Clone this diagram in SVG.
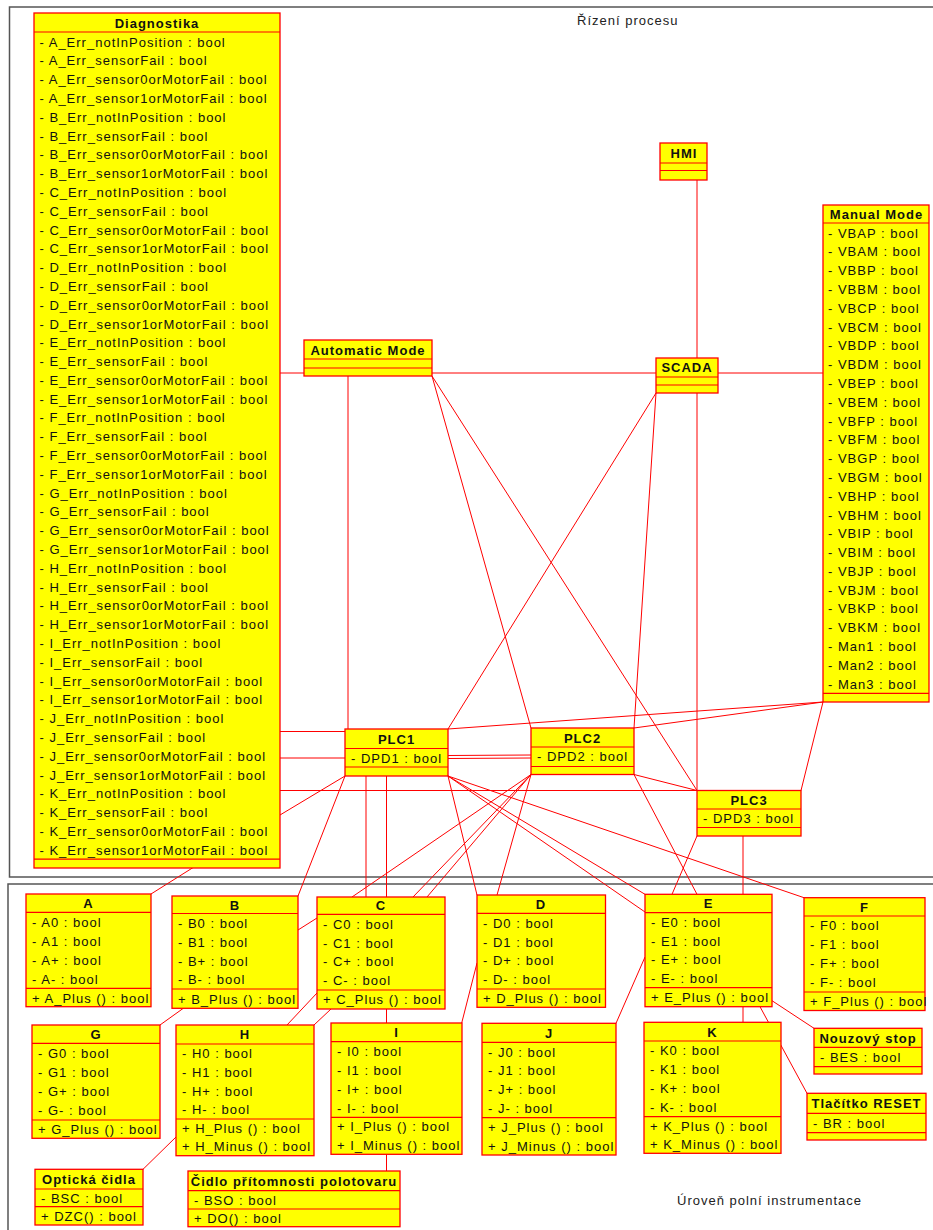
<svg xmlns="http://www.w3.org/2000/svg" width="933" height="1230" viewBox="0 0 933 1230">
<style>
.bg{fill:#ffffff}
.frame{fill:none;stroke:#555555;stroke-width:1.5}
.box{fill:#ffff00;stroke:#ff0000;stroke-width:1.3}
.sep{stroke:#ff0000;stroke-width:1.2}
.t{font-family:"Liberation Sans",Arial,sans-serif;font-size:13px;letter-spacing:1px;fill:#111111}
.h{font-weight:bold;text-anchor:middle}
.lbl{font-family:"Liberation Sans",Arial,sans-serif;font-size:13px;letter-spacing:1px;fill:#222222}
#connectors line{stroke:#ff0000;stroke-width:1;fill:none}
</style>
<rect class="bg" x="0" y="0" width="933" height="1230"/>
<g id="frames">
<rect class="frame" x="9.5" y="7" width="935" height="870"/>
<rect class="frame" x="8" y="884" width="937" height="360"/>
<text class="lbl" x="577" y="25">Řízení procesu</text>
<text class="lbl" x="677" y="1205">Úroveň polní instrumentace</text>
</g>
<g id="connectors">
<line x1="697" y1="180" x2="697" y2="358"/>
<line x1="280" y1="373" x2="304" y2="373"/>
<line x1="432" y1="373" x2="656" y2="373"/>
<line x1="718" y1="373" x2="823" y2="373"/>
<line x1="348" y1="376" x2="348" y2="729"/>
<line x1="432" y1="376" x2="531" y2="728"/>
<line x1="432" y1="376" x2="697" y2="790.5"/>
<line x1="656" y1="393" x2="448" y2="729"/>
<line x1="656" y1="393" x2="634" y2="728"/>
<line x1="697" y1="393" x2="697" y2="790.5"/>
<line x1="823" y1="702" x2="448" y2="729"/>
<line x1="823" y1="702" x2="634" y2="728"/>
<line x1="823" y1="702" x2="801" y2="790.5"/>
<line x1="280" y1="731.5" x2="345" y2="731.5"/>
<line x1="280" y1="758" x2="345" y2="758"/>
<line x1="280" y1="790.5" x2="697" y2="790.5"/>
<line x1="280" y1="815" x2="345" y2="776"/>
<line x1="448" y1="755.5" x2="531" y2="755"/>
<line x1="448" y1="758.5" x2="531" y2="758"/>
<line x1="634" y1="774.5" x2="697" y2="790.5"/>
<line x1="193" y1="867.6" x2="151" y2="894"/>
<line x1="345" y1="776" x2="298" y2="896"/>
<line x1="366" y1="776" x2="366" y2="897"/>
<line x1="386.5" y1="776" x2="386.5" y2="897"/>
<line x1="531" y1="774.5" x2="352" y2="897"/>
<line x1="531" y1="774.5" x2="413" y2="897"/>
<line x1="531" y1="774.5" x2="427" y2="897"/>
<line x1="448" y1="776" x2="477" y2="895"/>
<line x1="531" y1="774.5" x2="497" y2="895"/>
<line x1="448" y1="776" x2="645" y2="894.3"/>
<line x1="448" y1="776" x2="645" y2="912"/>
<line x1="448" y1="776" x2="804" y2="897.7"/>
<line x1="634" y1="774.5" x2="697" y2="894.3"/>
<line x1="697" y1="836" x2="672" y2="894.3"/>
<line x1="743" y1="836" x2="743" y2="894.3"/>
<line x1="298" y1="930" x2="317" y2="918"/>
<line x1="317" y1="993" x2="287" y2="1025"/>
<line x1="331" y1="1009" x2="314" y2="1025"/>
<line x1="183.3" y1="1008.3" x2="160" y2="1025"/>
<line x1="176" y1="1137" x2="143" y2="1169.3"/>
<line x1="386.5" y1="1009" x2="386.5" y2="1023"/>
<line x1="386.5" y1="1154.3" x2="386.5" y2="1171"/>
<line x1="461.7" y1="1023" x2="477" y2="963"/>
<line x1="616" y1="1023.3" x2="645" y2="957"/>
<line x1="743" y1="1006.7" x2="743" y2="1022.3"/>
<line x1="760" y1="1006.7" x2="807" y2="1093.3"/>
<line x1="772" y1="1000.7" x2="814" y2="1028.3"/>
</g>
<g id="Diagnostika">
<rect class="box" x="34" y="13" width="246" height="855"/>
<line class="sep" x1="34" y1="32" x2="280" y2="32"/>
<line class="sep" x1="34" y1="859.2" x2="280" y2="859.2"/>
<text class="t h" x="157" y="27.5">Diagnostika</text>
<text class="t" x="39.5" y="46.5"><tspan x="39.5">- A_Err_notInPosition : bool</tspan><tspan x="39.5" dy="18.8">- A_Err_sensorFail : bool</tspan><tspan x="39.5" dy="18.8">- A_Err_sensor0orMotorFail : bool</tspan><tspan x="39.5" dy="18.8">- A_Err_sensor1orMotorFail : bool</tspan><tspan x="39.5" dy="18.8">- B_Err_notInPosition : bool</tspan><tspan x="39.5" dy="18.8">- B_Err_sensorFail : bool</tspan><tspan x="39.5" dy="18.8">- B_Err_sensor0orMotorFail : bool</tspan><tspan x="39.5" dy="18.8">- B_Err_sensor1orMotorFail : bool</tspan><tspan x="39.5" dy="18.8">- C_Err_notInPosition : bool</tspan><tspan x="39.5" dy="18.8">- C_Err_sensorFail : bool</tspan><tspan x="39.5" dy="18.8">- C_Err_sensor0orMotorFail : bool</tspan><tspan x="39.5" dy="18.8">- C_Err_sensor1orMotorFail : bool</tspan><tspan x="39.5" dy="18.8">- D_Err_notInPosition : bool</tspan><tspan x="39.5" dy="18.8">- D_Err_sensorFail : bool</tspan><tspan x="39.5" dy="18.8">- D_Err_sensor0orMotorFail : bool</tspan><tspan x="39.5" dy="18.8">- D_Err_sensor1orMotorFail : bool</tspan><tspan x="39.5" dy="18.8">- E_Err_notInPosition : bool</tspan><tspan x="39.5" dy="18.8">- E_Err_sensorFail : bool</tspan><tspan x="39.5" dy="18.8">- E_Err_sensor0orMotorFail : bool</tspan><tspan x="39.5" dy="18.8">- E_Err_sensor1orMotorFail : bool</tspan><tspan x="39.5" dy="18.8">- F_Err_notInPosition : bool</tspan><tspan x="39.5" dy="18.8">- F_Err_sensorFail : bool</tspan><tspan x="39.5" dy="18.8">- F_Err_sensor0orMotorFail : bool</tspan><tspan x="39.5" dy="18.8">- F_Err_sensor1orMotorFail : bool</tspan><tspan x="39.5" dy="18.8">- G_Err_notInPosition : bool</tspan><tspan x="39.5" dy="18.8">- G_Err_sensorFail : bool</tspan><tspan x="39.5" dy="18.8">- G_Err_sensor0orMotorFail : bool</tspan><tspan x="39.5" dy="18.8">- G_Err_sensor1orMotorFail : bool</tspan><tspan x="39.5" dy="18.8">- H_Err_notInPosition : bool</tspan><tspan x="39.5" dy="18.8">- H_Err_sensorFail : bool</tspan><tspan x="39.5" dy="18.8">- H_Err_sensor0orMotorFail : bool</tspan><tspan x="39.5" dy="18.8">- H_Err_sensor1orMotorFail : bool</tspan><tspan x="39.5" dy="18.8">- I_Err_notInPosition : bool</tspan><tspan x="39.5" dy="18.8">- I_Err_sensorFail : bool</tspan><tspan x="39.5" dy="18.8">- I_Err_sensor0orMotorFail : bool</tspan><tspan x="39.5" dy="18.8">- I_Err_sensor1orMotorFail : bool</tspan><tspan x="39.5" dy="18.8">- J_Err_notInPosition : bool</tspan><tspan x="39.5" dy="18.8">- J_Err_sensorFail : bool</tspan><tspan x="39.5" dy="18.8">- J_Err_sensor0orMotorFail : bool</tspan><tspan x="39.5" dy="18.8">- J_Err_sensor1orMotorFail : bool</tspan><tspan x="39.5" dy="18.8">- K_Err_notInPosition : bool</tspan><tspan x="39.5" dy="18.8">- K_Err_sensorFail : bool</tspan><tspan x="39.5" dy="18.8">- K_Err_sensor0orMotorFail : bool</tspan><tspan x="39.5" dy="18.8">- K_Err_sensor1orMotorFail : bool</tspan></text>
</g>
<g id="HMI">
<rect class="box" x="660" y="143" width="47" height="37"/>
<line class="sep" x1="660" y1="163" x2="707" y2="163"/>
<line class="sep" x1="660" y1="170.5" x2="707" y2="170.5"/>
<text class="t h" x="684" y="157.8">HMI</text>
</g>
<g id="ManualMode">
<rect class="box" x="823" y="205" width="106" height="497"/>
<line class="sep" x1="823" y1="223" x2="929" y2="223"/>
<line class="sep" x1="823" y1="693.3" x2="929" y2="693.3"/>
<text class="t h" x="876.5" y="218.5">Manual Mode</text>
<text class="t" x="828" y="237.5"><tspan x="828">- VBAP : bool</tspan><tspan x="828" dy="18.8">- VBAM : bool</tspan><tspan x="828" dy="18.8">- VBBP : bool</tspan><tspan x="828" dy="18.8">- VBBM : bool</tspan><tspan x="828" dy="18.8">- VBCP : bool</tspan><tspan x="828" dy="18.8">- VBCM : bool</tspan><tspan x="828" dy="18.8">- VBDP : bool</tspan><tspan x="828" dy="18.8">- VBDM : bool</tspan><tspan x="828" dy="18.8">- VBEP : bool</tspan><tspan x="828" dy="18.8">- VBEM : bool</tspan><tspan x="828" dy="18.8">- VBFP : bool</tspan><tspan x="828" dy="18.8">- VBFM : bool</tspan><tspan x="828" dy="18.8">- VBGP : bool</tspan><tspan x="828" dy="18.8">- VBGM : bool</tspan><tspan x="828" dy="18.8">- VBHP : bool</tspan><tspan x="828" dy="18.8">- VBHM : bool</tspan><tspan x="828" dy="18.8">- VBIP : bool</tspan><tspan x="828" dy="18.8">- VBIM : bool</tspan><tspan x="828" dy="18.8">- VBJP : bool</tspan><tspan x="828" dy="18.8">- VBJM : bool</tspan><tspan x="828" dy="18.8">- VBKP : bool</tspan><tspan x="828" dy="18.8">- VBKM : bool</tspan><tspan x="828" dy="18.8">- Man1 : bool</tspan><tspan x="828" dy="18.8">- Man2 : bool</tspan><tspan x="828" dy="18.8">- Man3 : bool</tspan></text>
</g>
<g id="AutomaticMode">
<rect class="box" x="304" y="340" width="128" height="36"/>
<line class="sep" x1="304" y1="359" x2="432" y2="359"/>
<line class="sep" x1="304" y1="368" x2="432" y2="368"/>
<text class="t h" x="368" y="354.5">Automatic Mode</text>
</g>
<g id="SCADA">
<rect class="box" x="656" y="358" width="62" height="35"/>
<line class="sep" x1="656" y1="377" x2="718" y2="377"/>
<line class="sep" x1="656" y1="385" x2="718" y2="385"/>
<text class="t h" x="687" y="372">SCADA</text>
</g>
<g id="PLC1">
<rect class="box" x="345" y="729" width="103" height="47"/>
<line class="sep" x1="345" y1="748.5" x2="448" y2="748.5"/>
<line class="sep" x1="345" y1="767" x2="448" y2="767"/>
<text class="t h" x="396.5" y="744">PLC1</text>
<text class="t" x="351" y="762.5">- DPD1 : bool</text>
</g>
<g id="PLC2">
<rect class="box" x="531" y="728" width="103" height="46.5"/>
<line class="sep" x1="531" y1="747" x2="634" y2="747"/>
<line class="sep" x1="531" y1="766.5" x2="634" y2="766.5"/>
<text class="t h" x="582.5" y="742.5">PLC2</text>
<text class="t" x="537" y="761.3">- DPD2 : bool</text>
</g>
<g id="PLC3">
<rect class="box" x="697" y="790.5" width="104" height="45.5"/>
<line class="sep" x1="697" y1="809" x2="801" y2="809"/>
<line class="sep" x1="697" y1="827.5" x2="801" y2="827.5"/>
<text class="t h" x="749" y="804.5">PLC3</text>
<text class="t" x="703" y="823">- DPD3 : bool</text>
</g>
<g id="A">
<rect class="box" x="26" y="894" width="125" height="112.7"/>
<line class="sep" x1="26" y1="912.3" x2="151" y2="912.3"/>
<line class="sep" x1="26" y1="988.3" x2="151" y2="988.3"/>
<text class="t h" x="88.5" y="908">A</text>
<text class="t" x="32" y="926.5">- A0 : bool</text>
<text class="t" x="32" y="945.5">- A1 : bool</text>
<text class="t" x="32" y="964.5">- A+ : bool</text>
<text class="t" x="32" y="983.5">- A- : bool</text>
<text class="t" x="32" y="1002.5">+ A_Plus () : bool</text>
</g>
<g id="B">
<rect class="box" x="172" y="896" width="126" height="112.3"/>
<line class="sep" x1="172" y1="913.5" x2="298" y2="913.5"/>
<line class="sep" x1="172" y1="989" x2="298" y2="989"/>
<text class="t h" x="235" y="909.5">B</text>
<text class="t" x="178" y="927.7">- B0 : bool</text>
<text class="t" x="178" y="946.6">- B1 : bool</text>
<text class="t" x="178" y="965.5">- B+ : bool</text>
<text class="t" x="178" y="984.4">- B- : bool</text>
<text class="t" x="178" y="1003.5">+ B_Plus () : bool</text>
</g>
<g id="C">
<rect class="box" x="317" y="897" width="128" height="112"/>
<line class="sep" x1="317" y1="914.3" x2="445" y2="914.3"/>
<line class="sep" x1="317" y1="990" x2="445" y2="990"/>
<text class="t h" x="381" y="910.4">C</text>
<text class="t" x="323" y="928.6">- C0 : bool</text>
<text class="t" x="323" y="947.5">- C1 : bool</text>
<text class="t" x="323" y="966.4">- C+ : bool</text>
<text class="t" x="323" y="985.3">- C- : bool</text>
<text class="t" x="323" y="1004.3">+ C_Plus () : bool</text>
</g>
<g id="D">
<rect class="box" x="477" y="895" width="128.5" height="112.3"/>
<line class="sep" x1="477" y1="913.3" x2="605.5" y2="913.3"/>
<line class="sep" x1="477" y1="989" x2="605.5" y2="989"/>
<text class="t h" x="541" y="909">D</text>
<text class="t" x="483" y="927.6">- D0 : bool</text>
<text class="t" x="483" y="946.5">- D1 : bool</text>
<text class="t" x="483" y="965.4">- D+ : bool</text>
<text class="t" x="483" y="984.3">- D- : bool</text>
<text class="t" x="483" y="1003">+ D_Plus () : bool</text>
</g>
<g id="E">
<rect class="box" x="645" y="894.3" width="127" height="112.4"/>
<line class="sep" x1="645" y1="912.7" x2="772" y2="912.7"/>
<line class="sep" x1="645" y1="987.7" x2="772" y2="987.7"/>
<text class="t h" x="708.5" y="908.3">E</text>
<text class="t" x="651" y="926.9">- E0 : bool</text>
<text class="t" x="651" y="945.6">- E1 : bool</text>
<text class="t" x="651" y="964.4">- E+ : bool</text>
<text class="t" x="651" y="983.1">- E- : bool</text>
<text class="t" x="651" y="1002">+ E_Plus () : bool</text>
</g>
<g id="F">
<rect class="box" x="804" y="897.7" width="121" height="112.8"/>
<line class="sep" x1="804" y1="916" x2="925" y2="916"/>
<line class="sep" x1="804" y1="992" x2="925" y2="992"/>
<text class="t h" x="864.5" y="911.7">F</text>
<text class="t" x="810" y="930.3">- F0 : bool</text>
<text class="t" x="810" y="949.3">- F1 : bool</text>
<text class="t" x="810" y="968.3">- F+ : bool</text>
<text class="t" x="810" y="987.3">- F- : bool</text>
<text class="t" x="810" y="1006">+ F_Plus () : bool</text>
</g>
<g id="G">
<rect class="box" x="32" y="1025" width="128" height="113.3"/>
<line class="sep" x1="32" y1="1043.3" x2="160" y2="1043.3"/>
<line class="sep" x1="32" y1="1120" x2="160" y2="1120"/>
<text class="t h" x="96" y="1039">G</text>
<text class="t" x="38" y="1057.7">- G0 : bool</text>
<text class="t" x="38" y="1076.9">- G1 : bool</text>
<text class="t" x="38" y="1096.1">- G+ : bool</text>
<text class="t" x="38" y="1115.2">- G- : bool</text>
<text class="t" x="38" y="1134">+ G_Plus () : bool</text>
</g>
<g id="H">
<rect class="box" x="176" y="1025" width="138" height="130.7"/>
<line class="sep" x1="176" y1="1044" x2="314" y2="1044"/>
<line class="sep" x1="176" y1="1119" x2="314" y2="1119"/>
<text class="t h" x="245" y="1039.3">H</text>
<text class="t" x="182" y="1058.2">- H0 : bool</text>
<text class="t" x="182" y="1076.9">- H1 : bool</text>
<text class="t" x="182" y="1095.7">- H+ : bool</text>
<text class="t" x="182" y="1114.4">- H- : bool</text>
<text class="t" x="182" y="1133">+ H_Plus () : bool</text>
<text class="t" x="182" y="1151.3">+ H_Minus () : bool</text>
</g>
<g id="I">
<rect class="box" x="331" y="1023" width="131" height="131.3"/>
<line class="sep" x1="331" y1="1041.7" x2="462" y2="1041.7"/>
<line class="sep" x1="331" y1="1117.3" x2="462" y2="1117.3"/>
<text class="t h" x="396.5" y="1037.2">I</text>
<text class="t" x="337" y="1056">- I0 : bool</text>
<text class="t" x="337" y="1074.9">- I1 : bool</text>
<text class="t" x="337" y="1093.8">- I+ : bool</text>
<text class="t" x="337" y="1112.7">- I- : bool</text>
<text class="t" x="337" y="1131.3">+ I_Plus () : bool</text>
<text class="t" x="337" y="1149.8">+ I_Minus () : bool</text>
</g>
<g id="J">
<rect class="box" x="482" y="1023.3" width="134" height="131.7"/>
<line class="sep" x1="482" y1="1042.3" x2="616" y2="1042.3"/>
<line class="sep" x1="482" y1="1117.7" x2="616" y2="1117.7"/>
<text class="t h" x="549" y="1037.6">J</text>
<text class="t" x="488" y="1056.5">- J0 : bool</text>
<text class="t" x="488" y="1075.4">- J1 : bool</text>
<text class="t" x="488" y="1094.2">- J+ : bool</text>
<text class="t" x="488" y="1113.1">- J- : bool</text>
<text class="t" x="488" y="1131.8">+ J_Plus () : bool</text>
<text class="t" x="488" y="1150.5">+ J_Minus () : bool</text>
</g>
<g id="K">
<rect class="box" x="644" y="1022.3" width="137" height="131"/>
<line class="sep" x1="644" y1="1041" x2="781" y2="1041"/>
<line class="sep" x1="644" y1="1116.7" x2="781" y2="1116.7"/>
<text class="t h" x="712.5" y="1036.5">K</text>
<text class="t" x="650" y="1055.3">- K0 : bool</text>
<text class="t" x="650" y="1074.2">- K1 : bool</text>
<text class="t" x="650" y="1093.1">- K+ : bool</text>
<text class="t" x="650" y="1112">- K- : bool</text>
<text class="t" x="650" y="1130.7">+ K_Plus () : bool</text>
<text class="t" x="650" y="1149">+ K_Minus () : bool</text>
</g>
<g id="OptickaCidla">
<rect class="box" x="35" y="1169.3" width="108" height="55.7"/>
<line class="sep" x1="35" y1="1189" x2="143" y2="1189"/>
<line class="sep" x1="35" y1="1206.7" x2="143" y2="1206.7"/>
<text class="t h" x="89" y="1184">Optická čidla</text>
<text class="t" x="41" y="1202.7">- BSC : bool</text>
<text class="t" x="41" y="1220.7">+ DZC() : bool</text>
</g>
<g id="CidloPritomnosti">
<rect class="box" x="188" y="1171" width="212" height="55.7"/>
<line class="sep" x1="188" y1="1190.7" x2="400" y2="1190.7"/>
<line class="sep" x1="188" y1="1209" x2="400" y2="1209"/>
<text class="t h" x="294" y="1185.7">Čidlo přítomnosti polotovaru</text>
<text class="t" x="194" y="1204.7">- BSO : bool</text>
<text class="t" x="194" y="1222.7">+ DO() : bool</text>
</g>
<g id="NouzovyStop">
<rect class="box" x="814" y="1028.3" width="108" height="45.7"/>
<line class="sep" x1="814" y1="1047.3" x2="922" y2="1047.3"/>
<line class="sep" x1="814" y1="1066.7" x2="922" y2="1066.7"/>
<text class="t h" x="868" y="1042.6">Nouzový stop</text>
<text class="t" x="820" y="1061.8">- BES : bool</text>
</g>
<g id="TlacitkoReset">
<rect class="box" x="807" y="1093.3" width="119" height="46.7"/>
<line class="sep" x1="807" y1="1113.3" x2="926" y2="1113.3"/>
<line class="sep" x1="807" y1="1132.7" x2="926" y2="1132.7"/>
<text class="t h" x="866.5" y="1108.1">Tlačítko RESET</text>
<text class="t" x="813" y="1127.8">- BR : bool</text>
</g>
</svg>
